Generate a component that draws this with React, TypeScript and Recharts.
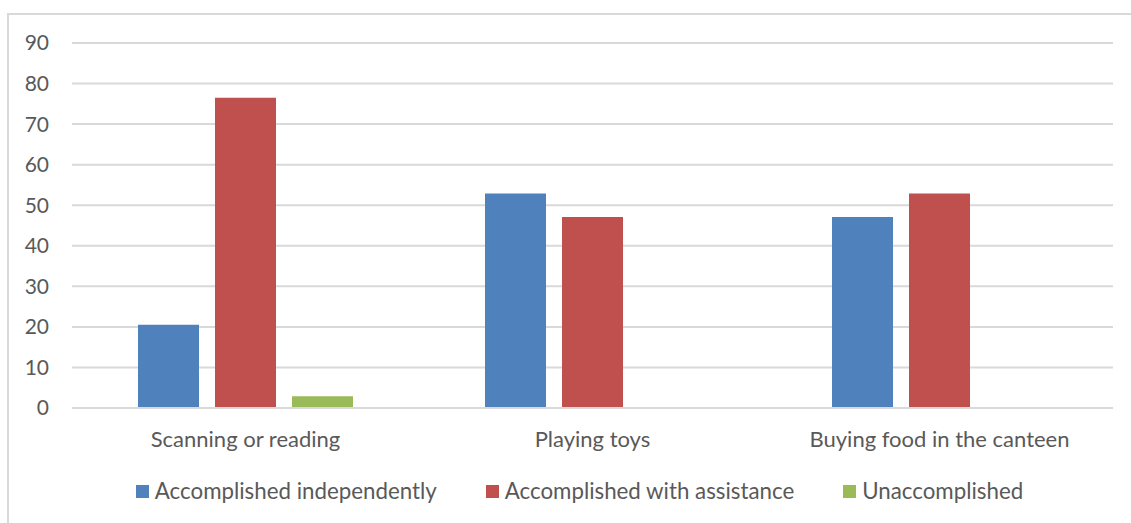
import React from 'react';
import { BarChart, Bar, XAxis, YAxis, CartesianGrid, Legend } from 'recharts';

const categories = ['Scanning or reading', 'Playing toys', 'Buying food in the canteen'];
const independently = [20.5, 52.9, 47.1];
const withAssistance = [76.5, 47.1, 52.9];
const unaccomplished = [2.9, 0, 0];
const yTicks = [0, 10, 20, 30, 40, 50, 60, 70, 80, 90];

const series = [
  { key: 'independently', name: 'Accomplished independently', color: '#4f81bd' },
  { key: 'assistance', name: 'Accomplished with assistance', color: '#c0504d' },
  { key: 'unaccomplished', name: 'Unaccomplished', color: '#9bbb59' },
];

const data = categories.map((name, i) => ({
  name,
  independently: independently[i],
  assistance: withAssistance[i],
  unaccomplished: unaccomplished[i],
}));

const FONT = 'Lato, "Open Sans", sans-serif';
const TEXT = '#595959';

const LegendContent = () => (
  <div style={{ display: 'flex', justifyContent: 'center', gap: 49, paddingLeft: 46, fontFamily: FONT, fontSize: 22.3, color: TEXT, lineHeight: '26px' }}>
    {series.map((s) => (
      <div key={s.key} style={{ display: 'flex', alignItems: 'center' }}>
        <span style={{ width: 13, height: 13, background: s.color, marginRight: 6, display: 'inline-block' }} />
        <span>{s.name}</span>
      </div>
    ))}
  </div>
);

export default function App() {
  return (
    <div style={{ position: 'absolute', left: 0, top: 0, width: 1131, height: 523, overflow: 'hidden', background: '#fff' }}>
      <div style={{ position: 'absolute', left: 7, top: 13, width: 1140, height: 530, border: '2px solid #d9d9d9', boxSizing: 'border-box' }} />
      <BarChart
        width={1131}
        height={523}
        data={data}
        margin={{ top: 43, right: 18, bottom: 15, left: 0 }}
        barCategoryGap={66}
        barGap={16}
        style={{ position: 'absolute', left: 0, top: 0 }}
      >
        <CartesianGrid vertical={false} stroke="#d9d9d9" strokeWidth={2} />
        <XAxis
          dataKey="name"
          axisLine={{ stroke: '#d9d9d9', strokeWidth: 2 }}
          tickLine={false}
          tickMargin={17}
          height={70}
          tick={{ fill: TEXT, fontSize: 22, fontFamily: FONT }}
        />
        <YAxis
          domain={[0, 90]}
          ticks={yTicks}
          width={72}
          axisLine={false}
          tickLine={false}
          tickSize={0}
          tickMargin={23}
          tick={{ fill: TEXT, fontSize: 21, fontFamily: FONT }}
        />
        <Legend verticalAlign="bottom" height={30} content={<LegendContent />} />
        {series.map((s) => (
          <Bar key={s.key} dataKey={s.key} name={s.name} fill={s.color} barSize={61} isAnimationActive={false} />
        ))}
      </BarChart>
    </div>
  );
}
